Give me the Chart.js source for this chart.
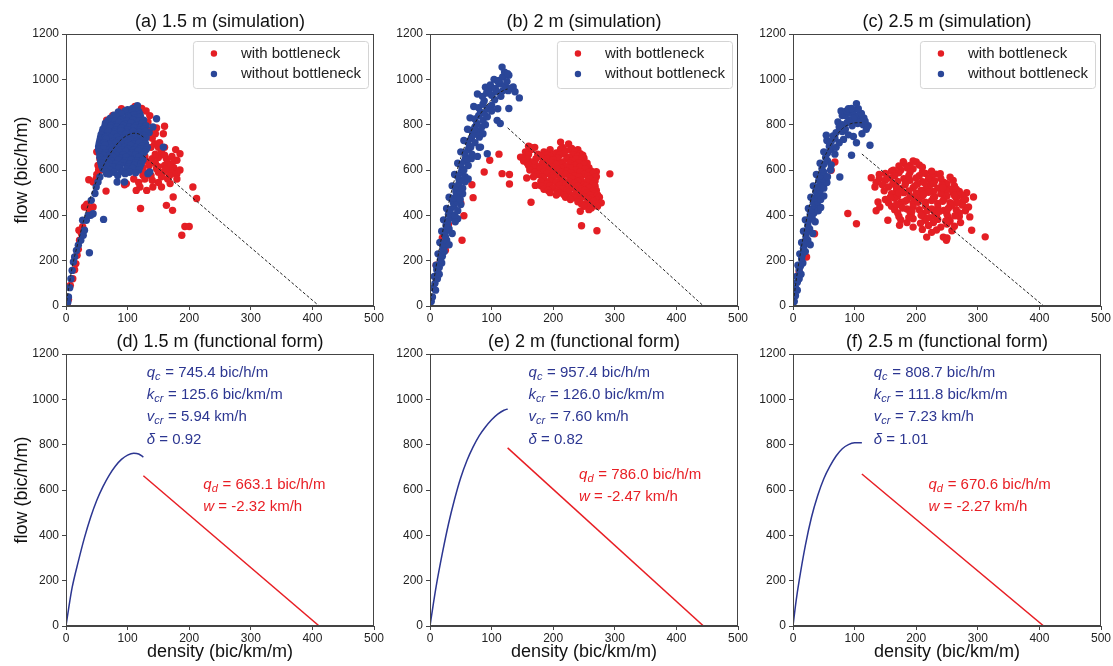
<!DOCTYPE html>
<html>
<head>
<meta charset="utf-8">
<script src="https://cdn.jsdelivr.net/npm/chart.js@4.4.1/dist/chart.umd.min.js"></script>
<style>
  html, body { margin: 0; padding: 0; background: #fff; overflow: hidden; }
  canvas { position: absolute; }
</style>
</head>
<body>
<script>
// ---- axis ticks and labels ----
const densityTicks = [0, 100, 200, 300, 400, 500];
const flowTicks = [0, 200, 400, 600, 800, 1000, 1200];
const panelTitles = [
  '(a) 1.5 m (simulation)', '(b) 2 m (simulation)', '(c) 2.5 m (simulation)',
  '(d) 1.5 m (functional form)', '(e) 2 m (functional form)', '(f) 2.5 m (functional form)'
];
const legendLabels = ['with bottleneck', 'without bottleneck'];

// ---- fitted parameters (1.5 m, 2 m, 2.5 m) ----
const fitQc = [745.4, 957.4, 808.7];
const fitKcr = [125.6, 126.0, 111.8];
const fitVcr = [5.94, 7.60, 7.23];
const fitDelta = [0.92, 0.82, 1.01];
const fitQd = [663.1, 786.0, 670.6];
const fitW = [-2.32, -2.47, -2.27];
const jamDensity = [411, 444, 407];

// free-flow branch of the functional form [density, flow]
const freeCurve15 = [[0,0],[5,90],[10,170],[20,285],[30,390],[40,480],[50,555],[60,615],[70,665],[80,705],[90,735],[100,754],[110,762],[118,759],[125.6,745.4]];
const freeCurve20 = [[0,0],[5,90],[10,175],[20,320],[30,450],[40,560],[50,655],[60,730],[70,790],[80,840],[90,878],[100,910],[110,935],[120,952],[126,957.4]];
const freeCurve25 = [[0,0],[5,110],[10,200],[20,355],[30,480],[40,575],[50,650],[60,705],[70,750],[80,782],[90,800],[100,808],[111.8,808.7]];

// ---- simulation scatter, 1.5 m ----
const simRed15 = [
  [2,10],[4,30],[7,91],[11,120],[14,160],[16,187],[18,224],[20,250],[22,290],[25,320],[21,334],[27,350],
  [30,437],[34,449],[37,430],[44,437],[33,444],[37,557],[44,547],[49,562],[55,598],[65,507],[68,598],
  [53,600],[50,680],[57,700],[60,760],[66,820],[76,841],[98,540],[95,535],
  [123,871],[133,812],[136,775],[160,793],[158,760],[147,785],[144,716],[150,700],[185,672],[180,643],
  [163,650],[172,660],[155,680],[140,650],[130,640],[145,630],[160,620],[175,610],[169,598],[180,584],
  [147,606],[125,577],[135,590],[155,570],[120,525],[114,510],[131,510],[141,525],[155,525],[169,540],
  [150,545],[140,555],[165,560],[206,525],[212,474],[174,481],[163,444],[173,422],[121,430],[193,351],
  [200,351],[188,312],[110,560],[105,600],[115,620],[125,610],[150,655],[165,630],[128,690],[138,700],
  [172,585],[158,590],
  [118,545],[128,560],[138,575],[150,590],[162,605],[125,595],[135,620],[150,615],[170,625],[160,665],
  [145,670],[175,640],[128,660],[168,575],[180,560],[185,600],[178,690],[160,700],[152,720],[140,740],
  [145,760],[136,840],[130,860],[112,880],[90,870],[65,780],[60,740],[55,650],[52,620],[50,580]
];
const simBlue15 = [
  [3,18],[4,40],[6,81],[8,120],[10,157],[12,194],[14,216],[17,245],[20,268],[24,290],[28,312],[30,334],
  [33,378],[27,378],[36,400],[40,400],[44,407],[38,235],[61,382],[41,466],[47,496],[49,525],[52,547],
  [55,569],[66,584],[83,547],[95,547],[133,584],[141,790],[147,826],[135,765],[158,701],[136,591],
  [108,872],[116,884],[100,866],[112,862],
  [85,856],[96,860],[106,850],[118,858],
  [78,842],[90,846],[101,840],[111,844],[120,846],
  [72,828],[82,834],[92,826],[102,832],[112,828],[121,835],
  [68,818],[79,815],[89,820],[99,816],[109,820],[119,816],[126,820],
  [64,806],[76,800],[86,810],[96,802],[106,808],[116,800],[124,806],
  [63,792],[73,794],[83,790],[93,796],[103,790],[113,794],[122,790],[130,795],
  [60,780],[71,786],[80,776],[90,784],[100,778],[110,786],[119,776],[127,782],
  [59,768],[69,770],[79,766],[89,772],[99,766],[109,770],[119,766],[129,770],
  [57,756],[67,750],[78,758],[88,752],[98,760],[108,750],[117,756],[127,752],
  [56,742],[64,744],[73,740],[83,746],[93,740],[103,744],[112,740],[121,746],[130,742],
  [55,730],[65,736],[76,726],[86,732],[96,728],[106,734],[115,726],[125,732],
  [54,718],[62,720],[71,714],[81,720],[91,714],[101,720],[110,714],[119,720],[129,716],
  [53,704],[63,710],[74,700],[85,706],[95,700],[105,708],[114,700],[124,706],[132,700],
  [53,692],[61,694],[71,690],[81,694],[91,690],[101,694],[111,690],[121,694],[130,690],
  [54,680],[64,676],[75,684],[87,678],[97,682],[107,676],[117,684],[127,678],
  [55,668],[62,664],[72,668],[82,664],[93,668],[103,664],[113,668],[123,664],
  [55,656],[66,650],[77,658],[88,652],[98,658],[108,650],[118,656],
  [56,642],[63,644],[74,640],[85,644],[96,640],[106,644],[116,640],[125,645],
  [57,630],[69,636],[81,626],[93,632],[103,626],[113,632],[122,628],
  [58,618],[66,620],[77,614],[88,620],[100,614],[111,620],[120,614],
  [60,606],[72,600],[86,608],[98,602],[108,608],[118,600],
  [65,592],[78,590],[91,594],[103,590],[113,588],
  [70,582],[84,576],[96,584]
];

// ---- simulation scatter, 2 m ----
const simRed20 = [
  [10,180],[20,300],[25,246],[30,360],[52,290],[55,398],[50,454],[70,478],[68,535],[88,591],[97,643],
  [112,670],[117,584],[129,580],[129,538],
  [225,715],[212,723],
  [160,705],[170,700],[215,700],[230,695],[163,701],
  [165,690],[195,690],[212,692],[228,688],[240,690],
  [155,680],[185,680],[205,675],[220,685],[235,680],
  [160,668],[175,670],[190,668],[203,670],[217,672],[232,668],[244,672],
  [150,655],[180,660],[195,660],[210,665],[225,655],[240,660],[248,665],[147,657],
  [158,648],[172,650],[190,650],[207,652],[222,648],[237,650],[250,652],
  [152,640],[165,635],[185,640],[200,645],[215,635],[230,640],[245,640],
  [158,630],[170,628],[182,630],[197,632],[212,628],[227,630],[242,632],[255,630],
  [160,620],[175,615],[190,620],[205,625],[220,615],[235,620],[250,625],
  [168,610],[183,610],[198,612],[213,608],[228,610],[243,612],[258,610],
  [162,600],[178,605],[192,598],[207,602],[222,595],[237,600],[252,605],[262,595],
  [170,590],[185,592],[200,590],[214,590],[229,588],[244,592],[258,590],[270,592],
  [175,580],[190,585],[205,578],[220,582],[235,575],[250,580],[265,585],[292,583],
  [168,570],[182,570],[197,572],[212,570],[227,568],[242,570],[256,572],[270,570],
  [157,565],[185,560],[200,565],[215,558],[230,562],[245,555],[260,560],
  [180,550],[195,552],[210,550],[225,550],[240,550],[255,548],[268,552],
  [171,532],[190,540],[205,545],[220,538],[235,542],[250,535],[265,540],
  [180,530],[195,530],[210,532],[225,530],[240,528],[254,530],[268,528],
  [185,515],[200,520],[215,518],[230,522],[245,515],[258,520],[270,510],
  [192,510],[207,508],[222,510],[237,508],[251,510],[264,506],
  [195,500],[210,498],[225,502],[240,495],[255,500],[268,495],
  [205,490],[218,490],[232,488],[246,490],[260,488],[272,490],
  [220,480],[235,478],[250,482],[262,475],[275,480],
  [228,470],[243,468],[257,470],[270,468],
  [240,460],[255,455],[265,462],[278,455],[164,458],
  [246,450],[260,448],[270,450],
  [250,440],[262,432],[272,440],
  [244,418],[258,425],
  [246,354],[271,332]
];
const simBlue20 = [
  [2,20],[4,40],
  [5,80],[9,70],[8,100],
  [7,130],[12,120],[15,140],[11,160],
  [10,180],[15,170],[19,190],[17,205],[20,220],
  [13,230],[18,225],[23,240],[21,255],[24,265],
  [16,280],[22,275],[27,290],[31,270],[25,305],
  [19,330],[25,325],[31,340],[36,320],[28,355],[26,355],
  [22,380],[29,375],[35,390],[41,372],[45,385],[33,405],[30,405],[40,400],
  [27,430],[33,425],[39,440],[45,420],[50,448],[38,455],[44,460],[36,470],
  [31,480],[37,475],[43,490],[49,470],[53,495],[42,505],[48,510],
  [36,530],[41,525],[47,540],[53,520],[57,548],[47,560],
  [40,580],[45,575],[51,590],[57,570],[62,560],[52,605],[55,600],
  [45,630],[50,625],[56,640],[62,620],[67,650],[58,655],[60,650],
  [50,680],[56,675],[62,690],[68,670],[77,660],[80,700],[64,705],[66,700],
  [55,730],[61,725],[67,740],[73,720],[80,745],[76,760],[70,755],
  [61,780],[67,775],[73,790],[79,770],[86,760],[90,800],[76,805],[72,780],[84,790],
  [65,830],[73,825],[79,840],[86,820],[93,835],[109,819],[82,855],[88,850],
  [71,880],[79,875],[86,890],[93,870],[100,885],[110,870],[128,871],[88,905],[100,860],[105,910],
  [77,935],[85,925],[92,940],[100,930],[108,945],[115,925],[135,966],[145,918],[127,950],[96,950],[118,950],
  [90,965],[98,975],[106,960],[114,980],[122,970],[130,960],[138,945],
  [104,1000],[112,995],[118,1010],[128,1018],[110,990],[125,990],
  [117,1054],[121,1032],[126,1025],
  [93,672],[114,805],[82,701]
];

// ---- simulation scatter, 2.5 m ----
const simRed25 = [
  [10,150],[22,216],[35,319],[62,599],[68,635],[89,408],[103,363],
  [180,630],[200,635],[190,620],[179,637],[195,640],[172,618],[205,622],
  [160,595],[175,600],[195,605],[210,590],[185,610],[163,599],
  [150,585],[172,588],[190,590],[215,585],[232,582],
  [127,566],[140,580],[165,575],[205,575],[225,570],[239,584],[245,545],[260,554],
  [140,562],[158,565],[180,562],[200,565],[220,560],[240,562],[255,568],
  [135,545],[150,555],[170,550],[190,555],[210,548],[230,552],[250,540],
  [145,535],[162,538],[182,535],[202,538],[222,532],[242,535],[262,530],
  [133,525],[155,525],[175,518],[195,522],[215,515],[235,520],[255,515],[270,505],
  [148,508],[168,510],[188,508],[208,510],[228,505],[248,510],[265,515],[282,500],
  [160,495],[180,500],[200,498],[220,502],[240,495],[260,500],[275,488],[293,481],
  [170,485],[190,484],[210,486],[230,482],[250,485],[268,488],
  [138,459],[150,470],[165,475],[185,468],[205,472],[225,465],[245,470],[265,475],
  [155,455],[175,458],[195,455],[215,458],[235,452],[255,456],[275,460],
  [141,437],[160,440],[175,445],[195,438],[215,442],[235,435],[255,440],[275,445],[285,437],
  [165,425],[185,428],[205,425],[225,428],[245,422],[265,425],[280,420],
  [170,410],[190,415],[210,408],[230,412],[250,405],[270,410],[135,420],
  [172,395],[192,398],[212,395],[232,396],[252,392],[270,395],
  [154,378],[175,380],[195,385],[215,378],[235,382],[255,375],[287,393],
  [185,368],[207,365],[228,368],[250,362],[272,368],
  [173,356],[195,348],[220,355],[240,348],[262,352],
  [210,338],[233,335],[258,332],
  [217,304],[244,304],[225,325],[250,300],[290,334],[312,305],[249,290],
  [168,448],[182,462],[197,478],[212,492],[228,478],[243,462],[258,448],[178,432],[193,418],[208,400],
  [222,390],[238,418],[252,430],[266,455],[198,530],[213,545],[228,540],[183,545],[168,522],[203,458],
  [218,420],[233,398],[188,390],[248,375],[263,398],[158,480],[172,500],[262,488],[280,470],[243,522],
  [188,575],[225,595],[210,612]
];
const simBlue25 = [
  [2,20],[4,45],
  [4,80],[7,70],[7,105],
  [6,130],[10,120],[13,140],[10,160],
  [8,180],[12,175],[16,190],[14,210],
  [11,230],[15,225],[20,240],[17,255],
  [14,280],[19,275],[24,290],[28,270],[21,305],
  [17,330],[22,325],[27,340],[32,320],[24,355],
  [20,380],[25,375],[31,390],[36,372],[28,405],[34,410],
  [25,430],[30,425],[36,440],[41,420],[45,435],[33,455],[40,460],
  [29,480],[34,475],[40,490],[45,470],[50,485],[37,505],[44,510],
  [33,530],[39,525],[45,540],[50,520],[55,545],[42,555],[48,560],
  [38,580],[44,575],[50,590],[56,570],[61,600],[47,605],
  [44,630],[50,625],[56,640],[62,622],[53,655],
  [50,680],[56,675],[62,690],[68,670],[70,700],
  [55,730],[62,725],[68,740],[75,720],[82,735],[59,705],[60,720],
  [54,753],[70,765],[80,770],[90,755],[98,748],[112,760],[65,750],
  [73,812],[80,800],[88,810],[96,795],[105,805],[114,800],[119,780],[75,790],[85,780],[122,795],[117,815],
  [92,820],[100,820],[108,825],
  [85,840],[93,850],[100,835],[108,845],[115,830],[111,849],[80,840],
  [78,860],[87,860],[98,860],[106,870],
  [90,870],[95,871],[103,893],
  [125,709],[95,665],[76,569],[103,720]
];

// ---- look ----
const FONT = '"Liberation Sans", Arial, Helvetica, sans-serif';
const RED = 'rgb(228,30,36)';
const BLUE = 'rgb(42,70,152)';
const TEXT_BLUE = 'rgb(44,54,145)';
const TEXT_RED = 'rgb(232,30,36)';
const AXIS = '#444';
const DOT = 3.7;

const pts = arr => arr.map(([x, y]) => ({x, y}));

function richLine(ctx, x, y, parts, color) {
  ctx.fillStyle = color;
  ctx.textBaseline = 'middle';
  ctx.textAlign = 'left';
  let cx = x;
  parts.forEach(p => {
    const size = p.s ? 11 : 15;
    ctx.font = (p.i ? 'italic ' : '') + size + 'px ' + FONT;
    ctx.fillText(p.t, cx, y + (p.s ? 4 : 0));
    cx += ctx.measureText(p.t).width + (p.s ? 0.5 : 0);
  });
}

function decorPlugin(panel) {
  return {
    id: 'decor',
    afterDraw(chart) {
      const {ctx, chartArea: a, scales} = chart;
      ctx.save();
      ctx.strokeStyle = AXIS;
      ctx.lineWidth = 1;
      ctx.strokeRect(a.left + 0.5, a.top + 0.5, a.right - a.left - 1, a.bottom - a.top - 1);

      if (panel.row === 0) {
        ctx.font = '15px ' + FONT;
        const tw = Math.max(...legendLabels.map(t => ctx.measureText(t).width));
        const w = 48 + tw + 7, h = 47;
        const x0 = a.right - 6 - w, y0 = a.top + 7;
        ctx.beginPath();
        ctx.roundRect(x0 + 0.5, y0 + 0.5, w, h, 3);
        ctx.fillStyle = 'rgba(255,255,255,0.85)';
        ctx.fill();
        ctx.strokeStyle = '#d4d4d4';
        ctx.stroke();
        [RED, BLUE].forEach((c, j) => {
          const yy = y0 + 12.5 + j * 20.5;
          ctx.beginPath();
          ctx.arc(x0 + 21, yy, 3.2, 0, Math.PI * 2);
          ctx.fillStyle = c;
          ctx.fill();
          ctx.fillStyle = '#222';
          ctx.textBaseline = 'middle';
          ctx.fillText(legendLabels[j], x0 + 48, yy);
        });
      } else {
        const i = panel.idx;
        const bx = scales.x.getPixelForValue(panel.blueAt[0]);
        const by = scales.y.getPixelForValue(panel.blueAt[1]);
        const blueLines = [
          [{t: 'q', i: 1}, {t: 'c', i: 1, s: 1}, {t: ' = ' + fitQc[i].toFixed(1) + ' bic/h/m'}],
          [{t: 'k', i: 1}, {t: 'cr', i: 1, s: 1}, {t: ' = ' + fitKcr[i].toFixed(1) + ' bic/km/m'}],
          [{t: 'v', i: 1}, {t: 'cr', i: 1, s: 1}, {t: ' = ' + fitVcr[i].toFixed(2) + ' km/h'}],
          [{t: 'δ', i: 1}, {t: ' = ' + fitDelta[i].toFixed(2)}]
        ];
        blueLines.forEach((l, j) => richLine(ctx, bx, by + j * 22.2, l, TEXT_BLUE));
        const rx = scales.x.getPixelForValue(panel.redAt[0]);
        const ry = scales.y.getPixelForValue(panel.redAt[1]);
        const redLines = [
          [{t: 'q', i: 1}, {t: 'd', i: 1, s: 1}, {t: ' = ' + fitQd[i].toFixed(1) + ' bic/h/m'}],
          [{t: 'w', i: 1}, {t: ' = ' + fitW[i].toFixed(2) + ' km/h'}]
        ];
        redLines.forEach((l, j) => richLine(ctx, rx, ry + j * 21.6, l, TEXT_RED));
      }
      ctx.restore();
    }
  };
}

function axis(ticks, fixed, horizontal, title, titlePad) {
  return {
    type: 'linear',
    min: ticks[0],
    max: ticks[ticks.length - 1],
    afterBuildTicks: s => { s.ticks = ticks.map(v => ({value: v})); },
    afterFit: s => { if (horizontal) s.height = fixed; else s.width = fixed; },
    grid: {drawOnChartArea: false, drawTicks: true, tickLength: 4, color: AXIS},
    border: {display: true, color: AXIS},
    ticks: {
      color: '#222', font: {size: 12, family: FONT}, padding: horizontal ? 1 : 3,
      maxRotation: 0, autoSkip: false, callback: v => String(v)
    },
    title: {
      display: !!title, text: title || '', color: '#111',
      font: {size: 18, family: FONT}, padding: titlePad || 0
    }
  };
}

const panels = [
  {row: 0, idx: 0, left: 0,   red: simRed15, blue: simBlue15, curve: freeCurve15},
  {row: 0, idx: 1, left: 364, red: simRed20, blue: simBlue20, curve: freeCurve20},
  {row: 0, idx: 2, left: 727, red: simRed25, blue: simBlue25, curve: freeCurve25},
  {row: 1, idx: 0, left: 0,   curve: freeCurve15, blueAt: [131, 1117], redAt: [223, 622]},
  {row: 1, idx: 1, left: 364, curve: freeCurve20, blueAt: [160, 1117], redAt: [242, 666]},
  {row: 1, idx: 2, left: 727, curve: freeCurve25, blueAt: [131, 1117], redAt: [220, 622]}
];

panels.forEach((p, n) => {
  const cv = document.createElement('canvas');
  const h = p.row === 0 ? 330 : 346;
  cv.width = 386;
  cv.height = h;
  cv.style.left = p.left + 'px';
  cv.style.top = (p.row === 0 ? 0 : 320) + 'px';
  document.body.appendChild(cv);

  const i = p.idx;
  const congested = [[fitKcr[i], fitQd[i]], [jamDensity[i], 0]];
  const lineColor = p.row === 0 ? '#222' : TEXT_BLUE;
  const congColor = p.row === 0 ? '#222' : TEXT_RED;
  const lineStyle = p.row === 0
    ? {borderWidth: 1, borderDash: [3, 2]}
    : {borderWidth: 1.5, borderDash: []};

  const datasets = [
    Object.assign({label: 'free-flow fit', data: pts(p.curve), showLine: true, pointRadius: 0,
      borderColor: lineColor, cubicInterpolationMode: 'monotone', order: 0}, lineStyle),
    Object.assign({label: 'congested fit', data: pts(congested), showLine: true, pointRadius: 0,
      borderColor: congColor, order: 0}, lineStyle)
  ];
  if (p.row === 0) {
    datasets.push({label: legendLabels[1], data: pts(p.blue), pointRadius: DOT, pointBorderWidth: 0,
      pointBackgroundColor: BLUE, order: 1});
    datasets.push({label: legendLabels[0], data: pts(p.red), pointRadius: DOT, pointBorderWidth: 0,
      pointBackgroundColor: RED, order: 2});
  }

  new Chart(cv, {
    type: 'scatter',
    data: {datasets},
    options: {
      responsive: false,
      animation: false,
      devicePixelRatio: 1,
      events: [],
      clip: 0,
      layout: {padding: {left: 0, right: 12, top: 0, bottom: 0}},
      plugins: {
        legend: {display: false},
        tooltip: {enabled: false},
        title: {
          display: true, text: panelTitles[n], fullSize: false, color: '#111',
          font: {size: 18, family: FONT, weight: 'normal'}, padding: {top: 11, bottom: 1.4}
        }
      },
      scales: {
        x: axis(densityTicks, p.row === 0 ? 24 : 40, true,
          p.row === 1 ? 'density (bic/km/m)' : null, {top: 0, bottom: 3}),
        y: axis(flowTicks, 66, false,
          i === 0 ? 'flow (bic/h/m)' : null, {top: 11, bottom: 0})
      }
    },
    plugins: [decorPlugin(p)]
  });
});
</script>
</body>
</html>
